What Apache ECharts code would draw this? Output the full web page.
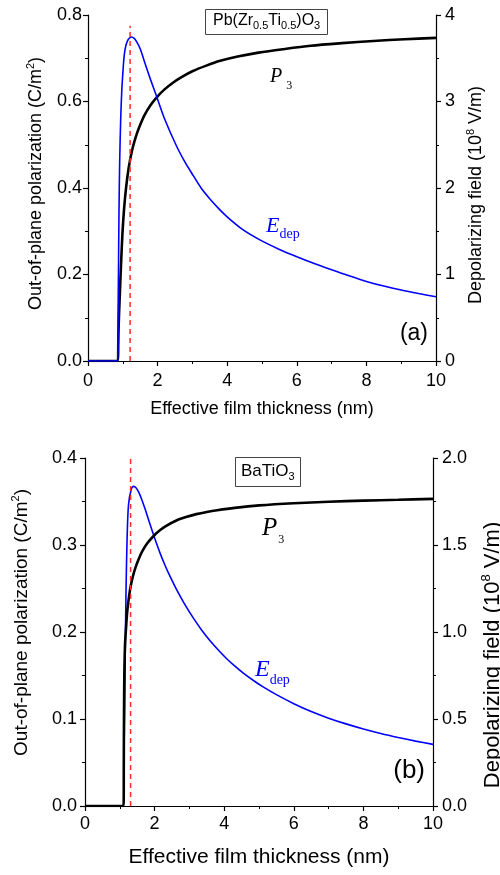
<!DOCTYPE html>
<html><head><meta charset="utf-8">
<script src="https://cdn.jsdelivr.net/npm/echarts@6/dist/echarts.min.js"></script>
<style>html,body{margin:0;padding:0;background:#fff}#c{width:500px;height:875px}</style>
</head><body><div id="c"></div>
<script>
// ---- Panel (a): Pb(Zr0.5Ti0.5)O3 ----
const thickA_P3 = [0,0.86,0.87,0.88,0.90,0.92,0.95,0.99,1.04,1.10,1.17,1.26,1.36,1.48,1.62,1.80,2.00,2.20,2.45,2.70,3.00,3.40,3.80,4.30,4.90,5.60,6.40,7.30,8.20,9.10,10];
const polA      = [0,0,0.04,0.08,0.125,0.165,0.225,0.295,0.355,0.405,0.447,0.485,0.515,0.542,0.568,0.592,0.612,0.628,0.644,0.657,0.670,0.683,0.694,0.704,0.713,0.721,0.729,0.735,0.740,0.744,0.747];
const thickA_E  = [0,0.86,0.865,0.875,0.89,0.91,0.94,0.97,1.00,1.04,1.09,1.16,1.25,1.33,1.40,1.50,1.64,1.80,1.97,2.19,2.55,2.80,3.03,3.25,3.51,3.75,3.99,4.46,4.94,5.50,6.00,6.50,7.00,7.50,8.00,8.50,9.00,9.50,10];
const fieldA    = [0,0,0.6,1.0,1.7,2.3,2.8,3.12,3.32,3.53,3.65,3.72,3.745,3.73,3.69,3.61,3.44,3.25,3.06,2.81,2.48,2.29,2.14,2.0,1.87,1.765,1.67,1.515,1.40,1.29,1.206,1.128,1.055,0.985,0.92,0.866,0.82,0.78,0.743];
// ---- Panel (b): BaTiO3 ----
const thickB_P3 = [0,1.11,1.115,1.12,1.13,1.15,1.18,1.21,1.25,1.30,1.37,1.45,1.55,1.64,1.80,2.00,2.17,2.31,2.64,2.90,3.20,3.50,3.80,4.30,5.00,6.00,7.00,8.00,9.00,10];
const polB      = [0,0,0.05,0.10,0.15,0.185,0.205,0.222,0.236,0.250,0.263,0.274,0.2845,0.2925,0.3025,0.3115,0.3175,0.3215,0.3285,0.3322,0.3355,0.338,0.340,0.3427,0.3455,0.348,0.3497,0.351,0.352,0.353];
const thickB_E  = [0,1.11,1.12,1.14,1.16,1.18,1.21,1.25,1.33,1.40,1.47,1.54,1.63,1.73,1.85,2.00,2.16,2.29,2.40,2.64,2.85,3.12,3.35,3.60,3.85,4.08,4.30,4.56,4.85,5.13,5.50,6.00,6.50,7.00,7.50,8.00,8.50,9.00,9.50,10];
const fieldB    = [0,0,0.25,0.6,0.95,1.25,1.54,1.73,1.82,1.837,1.828,1.805,1.762,1.705,1.630,1.540,1.452,1.388,1.338,1.240,1.165,1.078,1.012,0.948,0.892,0.845,0.805,0.762,0.720,0.683,0.640,0.588,0.543,0.505,0.472,0.443,0.417,0.394,0.373,0.354];
// critical thickness (red dashed lines) and their top ends (left-axis units)
const dashX   = [1.21, 1.31];
const dashTop = [0.775, 0.4];

const zip = (xs, ys) => xs.map((x, i) => [x, ys[i]]);
const SANS = 'Liberation Sans', SERIF = 'Liberation Serif';

function xAx(grid, nameSize, nameGap, labelMargin) {
  return {
    type: 'value', gridIndex: grid, min: 0, max: 10, interval: 2,
    axisLine: { show: true, onZero: false, lineStyle: { color: '#000', width: 1.2 } },
    axisTick: { show: true, inside: false, length: 5, lineStyle: { color: '#000', width: 1.2 } },
    minorTick: { show: true, splitNumber: 2, length: 3, lineStyle: { color: '#000', width: 1 } },
    splitLine: { show: false }, minorSplitLine: { show: false },
    axisLabel: { fontFamily: SANS, fontSize: 18, color: '#000', margin: labelMargin },
    name: 'Effective film thickness (nm)', nameLocation: 'middle', nameGap: nameGap,
    nameMoveOverlap: false,
    nameTextStyle: { fontFamily: SANS, fontSize: nameSize, color: '#000', lineHeight: nameSize + 4 }
  };
}
function yAx(grid, pos, min, max, interval, dec, name, nameSize, nameGap, pad, labelMargin) {
  return {
    type: 'value', gridIndex: grid, position: pos, min: min, max: max, interval: interval,
    axisLine: { show: true, onZero: false, lineStyle: { color: '#000', width: 1.2 } },
    axisTick: { show: true, inside: false, length: 5, lineStyle: { color: '#000', width: 1.2 } },
    minorTick: { show: true, splitNumber: 2, length: 3, lineStyle: { color: '#000', width: 1 } },
    splitLine: { show: false }, minorSplitLine: { show: false },
    axisLabel: { fontFamily: SANS, fontSize: 18, color: '#000', margin: labelMargin,
      formatter: v => v.toFixed(dec) },
    name: name, nameLocation: 'middle', nameGap: nameGap, nameMoveOverlap: false,
    nameTextStyle: { padding: pad,
      rich: {
        a: { fontFamily: SANS, fontSize: nameSize, lineHeight: nameSize + 4, color: '#000' },
        sup: { fontFamily: SANS, fontSize: Math.round(nameSize * 0.6), lineHeight: 8, verticalAlign: 'top', color: '#000' }
      } }
  };
}
const polName = '{a|Out-of-plane polarization (C/m}{sup|2}{a|)}';
const fldName = '{a|Depolarizing field (10}{sup|8}{a| V/m)}';

function lineSeries(xi, yi, data, color, width, z) {
  return { type: 'line', xAxisIndex: xi, yAxisIndex: yi, data: data, showSymbol: false,
    symbol: 'none', smooth: 0.3, z: z, lineStyle: { color: color, width: width }, silent: true };
}
function dashSeries(xi, yi, k) {
  return { type: 'line', xAxisIndex: xi, yAxisIndex: yi, data: [[dashX[k], 0], [dashX[k], dashTop[k]]],
    showSymbol: false, symbol: 'none', z: 5, silent: true,
    lineStyle: { color: '#ff2a2a', width: 1.5, type: [5, 4] } };
}

function subText(x, y, main, sub, mainSize, subSize, lh, subLh, color, mainItalic, subPad) {
  return { type: 'text', x: x, y: y, silent: true,
    style: { text: '{m|' + main + '}{s|' + sub + '}', align: 'left', verticalAlign: 'top',
      rich: {
        m: { fontFamily: SERIF, fontStyle: mainItalic ? 'italic' : 'normal', fontSize: mainSize, lineHeight: lh, fill: color, color: color },
        s: { fontFamily: SERIF, fontSize: subSize, lineHeight: subLh, verticalAlign: 'bottom', fill: color, color: color, padding: [0, 0, 0, subPad] }
      } } };
}

const chart = echarts.init(document.getElementById('c'), null, { renderer: 'canvas' });
chart.setOption({
  animation: false,
  backgroundColor: '#fff',
  grid: [
    { left: 88, top: 15, width: 348, height: 346, outerBoundsMode: 'none', containLabel: false },
    { left: 85, top: 458, width: 348, height: 348, outerBoundsMode: 'none', containLabel: false }
  ],
  title: [
    { text: '{n|Pb(Zr}{s|0.5}{n|Ti}{s|0.5}{n|)O}{s|3}', left: 205, top: 7, padding: [4, 8, 4, 8],
      borderColor: '#444', borderWidth: 1,
      textStyle: { fontWeight: 'normal', rich: {
        n: { fontFamily: SANS, fontSize: 16, lineHeight: 20, color: '#000', fontWeight: 'normal' },
        s: { fontFamily: SANS, fontSize: 11, lineHeight: 8, verticalAlign: 'bottom', color: '#000', fontWeight: 'normal' } } } },
    { text: '{n|BaTiO}{s|3}', left: 235, top: 455, padding: [5, 6, 5, 6],
      borderColor: '#444', borderWidth: 1,
      textStyle: { fontWeight: 'normal', rich: {
        n: { fontFamily: SANS, fontSize: 17, lineHeight: 22, color: '#000', fontWeight: 'normal' },
        s: { fontFamily: SANS, fontSize: 11, lineHeight: 3, verticalAlign: 'bottom', color: '#000', fontWeight: 'normal' } } } }
  ],
  xAxis: [ xAx(0, 18, 37, 11), xAx(1, 21, 39, 9.5) ],
  yAxis: [
    yAx(0, 'left', 0, 0.8, 0.2, 1, polName, 18, 40.5, [0, 0, 0, 9], 6),
    yAx(0, 'right', 0, 4, 1, 0, fldName, 18, 29.5, [0, 14, 0, 0], 9),
    yAx(1, 'left', 0, 0.4, 0.1, 1, polName, 19, 52, [0, 0, 0, 19], 8),
    yAx(1, 'right', 0, 2, 0.5, 1, fldName, 22, 47, [0, 46, 0, 0], 9)
  ],
  series: [
    lineSeries(0, 0, zip(thickA_P3, polA), '#000', 2.6, 3),
    lineSeries(0, 1, zip(thickA_E, fieldA), '#0000ff', 1.6, 4),
    dashSeries(0, 0, 0),
    lineSeries(1, 3, zip(thickB_E, fieldB), '#0000ff', 1.6, 3),
    lineSeries(1, 2, zip(thickB_P3, polB), '#000', 2.6, 4),
    dashSeries(1, 2, 1)
  ],
  graphic: [
    subText(270, 61.7, 'P', '3', 20, 12, 30, 6, '#000', true, 4),
    subText(266, 211.5, 'E', 'dep', 22, 14, 30, 8, '#0000ff', true, 0),
    subText(262, 510.3, 'P', '3', 25, 12, 36, 12.6, '#000', true, 1),
    subText(255, 653, 'E', 'dep', 24, 14, 34, 8, '#0000ff', true, 0),
    { type: 'text', x: 428, y: 334, silent: true,
      style: { text: '(a)', fontFamily: SANS, fontSize: 23, fill: '#000', align: 'right', verticalAlign: 'middle' } },
    { type: 'text', x: 425, y: 770.5, silent: true,
      style: { text: '(b)', fontFamily: SANS, fontSize: 26, fill: '#000', align: 'right', verticalAlign: 'middle' } }
  ]
});
</script>
</body></html>
